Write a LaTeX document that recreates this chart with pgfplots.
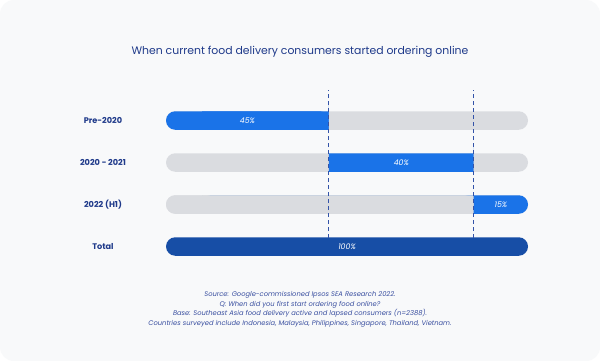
\documentclass[border=0pt]{standalone}
\usepackage{fontspec}
\setmainfont{Poppins}
\usepackage{pgfplots}
\pgfplotsset{compat=1.18}
\definecolor{bg}{HTML}{F8F9FA}
\definecolor{gbar}{HTML}{DADCE0}
\definecolor{bbar}{HTML}{1A73E8}
\definecolor{dbar}{HTML}{174EA6}
\definecolor{navy}{HTML}{1F3A8A}
\definecolor{dashc}{HTML}{3353A8}
\definecolor{foot}{HTML}{3A4FA0}
\begin{document}
\begin{tikzpicture}
\useasboundingbox (0,0) rectangle (600bp,-361bp);
\fill[white] (0,0) rectangle (600bp,-361bp);
\fill[bg, rounded corners=14bp] (0,0) rectangle (600bp,-361bp);
\node[text=navy, font=\fontsize{10.9}{12}\selectfont] at (300bp,-52bp) {When current food delivery consumers started ordering online};
\begin{axis}[
  at={(166bp,-267.5bp)}, anchor=south west,
  scale only axis, width=362bp, height=168bp,
  xmin=0, xmax=100, ymin=-0.5, ymax=3.5,
  clip=false,
  axis line style={draw=none},
  xtick=\empty,
  ytick={0,1,2,3},
  yticklabels={Total, 2022 (H1), 2020 - 2021, Pre-2020},
  major tick length=0pt,
  yticklabel style={anchor=center, xshift=-63bp, font=\fontsize{8.2}{9}\selectfont\bfseries, text=navy},
  seg/.style={xbar, bar width=18.5bp, bar shift=0pt, draw=none},
]
% base rounded bars
\addplot[seg, fill=gbar, rounded corners=9.25bp] coordinates {(100,3) (100,2) (100,1)};
\addplot[seg, fill=dbar, rounded corners=9.25bp] coordinates {(100,0)};
\addplot[seg, fill=bbar, rounded corners=9.25bp] coordinates {(45,3)};
% stacked pieces (row3, row2, row1)
\addplot[seg, stack plots=x, fill=none] coordinates {(10,3) (45,2) (10,1)};
\addplot[seg, stack plots=x, fill=bbar] coordinates {(35,3) (40,2) (0,1)};
\addplot[seg, stack plots=x, fill=bbar, rounded corners=9.25bp] coordinates {(0,3) (0,2) (90,1)};
\addplot[seg, fill=gbar, rounded corners=9.25bp] coordinates {(85,1)};
\addplot[seg, stack plots=x, fill=none] coordinates {(0,3) (0,2) (-90,1)};
\addplot[seg, stack plots=x, fill=gbar] coordinates {(0,3) (0,2) (75,1)};
% dashed dividers
\addplot[sharp plot, no marks, draw=dashc, line width=0.9bp, dash pattern=on 4bp off 3bp] coordinates {(45,0.2) (45,3.72)};
\addplot[sharp plot, no marks, draw=dashc, line width=0.9bp, dash pattern=on 4bp off 3bp] coordinates {(85,0.2) (85,3.72)};
% labels
\node[text=white, font=\fontsize{7.8}{9}\selectfont\itshape] at (axis cs:22.5,3) {45\%};
\node[text=white, font=\fontsize{7.8}{9}\selectfont\itshape] at (axis cs:65,2) {40\%};
\node[text=white, font=\fontsize{7.8}{9}\selectfont\itshape] at (axis cs:92.5,1) {15\%};
\node[text=white, font=\fontsize{7.8}{9}\selectfont\itshape] at (axis cs:50,0) {100\%};
\end{axis}
\node[text=foot, align=center, font=\fontsize{6.75}{9.7}\selectfont\itshape] at (300bp,-309.5bp) {Source: Google-commissioned Ipsos SEA Research 2022.\\Q: When did you first start ordering food online?\\Base: Southeast Asia food delivery active and lapsed consumers (n=2388).\\Countries surveyed include Indonesia, Malaysia, Philippines, Singapore, Thailand, Vietnam.};
\end{tikzpicture}
\end{document}
